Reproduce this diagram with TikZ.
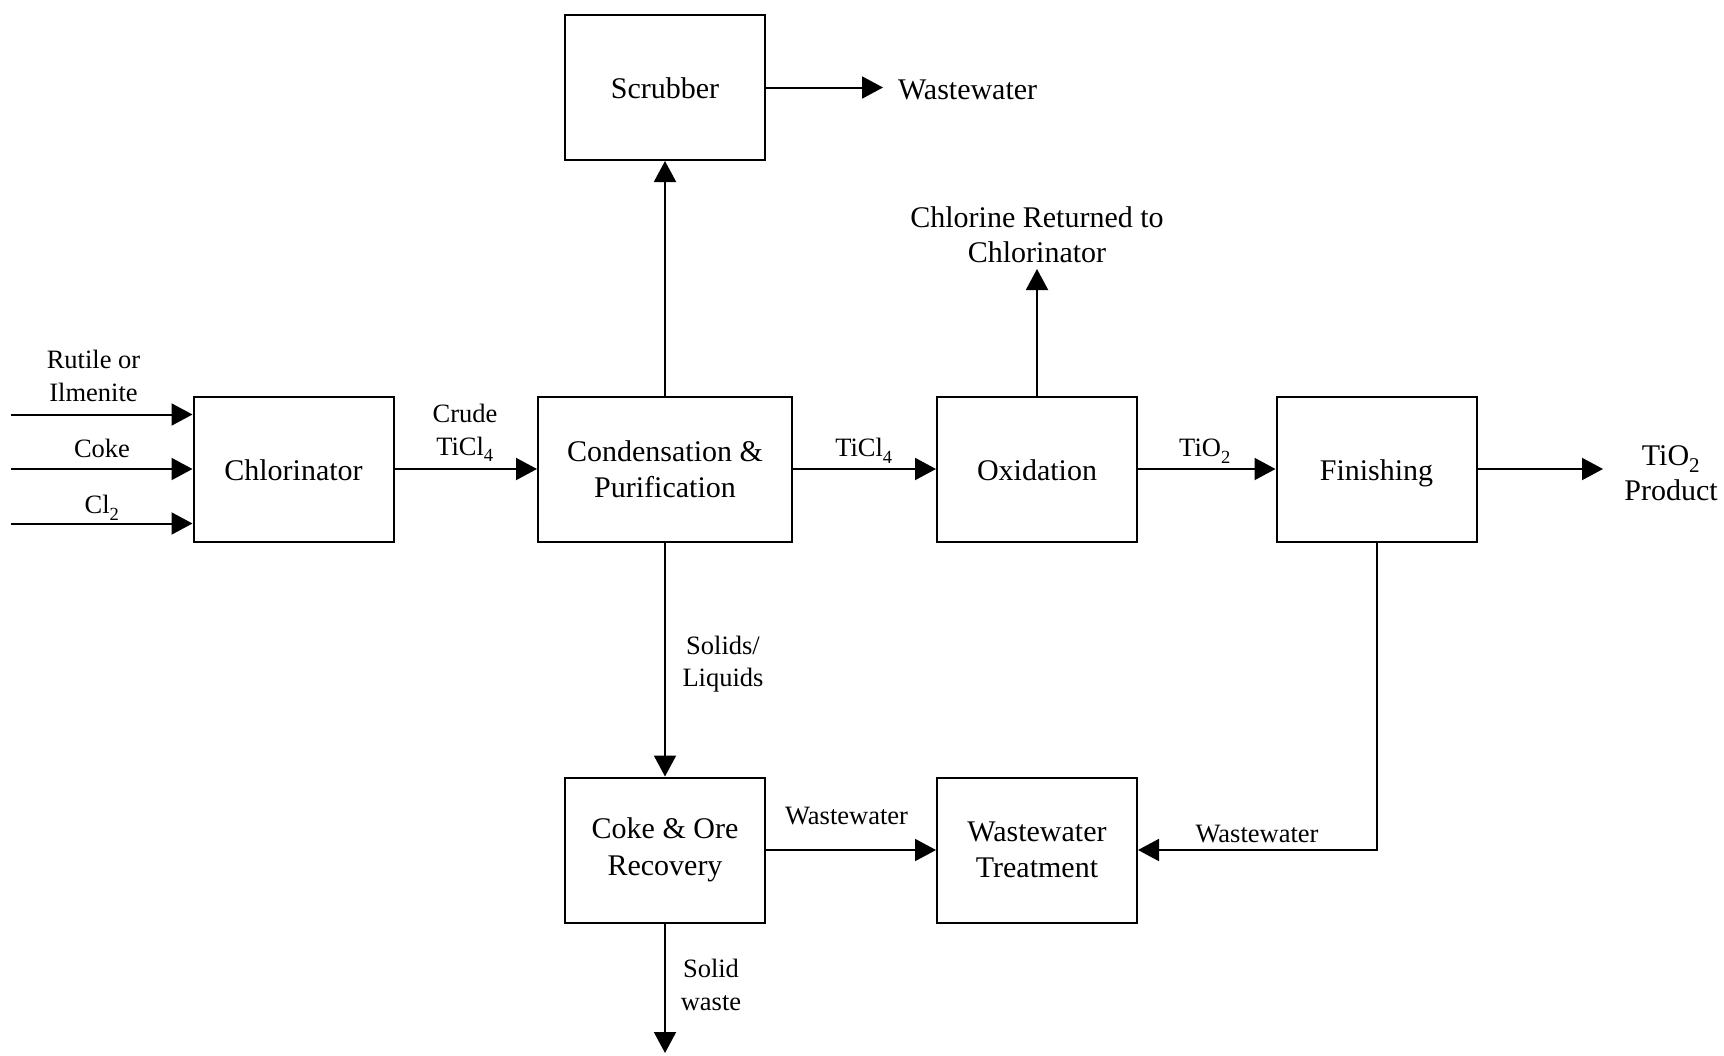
\documentclass[tikz,border=0pt]{standalone}
\usepackage{fontspec}
\setmainfont{Liberation Serif}
\usetikzlibrary{arrows.meta,positioning}
\newcommand{\lowsub}[1]{\textsubscript{\raisebox{-0.15em}{#1}}}

\begin{document}
\begin{tikzpicture}[x=1pt,y=-1pt,line width=2pt,
	unit/.style={draw,minimum width=200pt,minimum height=145pt,inner sep=0pt,font=\fontsize{30}{36.5}\selectfont},
	oneline/.style={text height=27pt,text depth=4.5pt},
	twoline/.style={align=center},
	lbl/.style={inner sep=0pt,align=center,font=\fontsize{26.5}{32.5}\selectfont},
	biglbl/.style={inner sep=0pt,align=center,font=\fontsize{30}{35}\selectfont},
	flow/.style={-{Triangle[length=21pt,width=22pt]}}]
    \useasboundingbox (0,0) rectangle (1724,1055);

    \node[unit,oneline] (chl) at (293.5,469) {Chlorinator};
    \node[unit,twoline,minimum width=254pt] (cond) at (665,469) {Condensation \&\\Purification};
    \node[unit,oneline] (oxi) at (1037,469) {Oxidation};
    \node[unit,oneline] (fin) at (1376.5,469) {Finishing};
    \node[unit,oneline] (scr) at (665,87.5) {Scrubber};
    \node[unit,twoline] (coke) at (665,850) {Coke \& Ore\\Recovery};
    \node[unit,twoline] (wwt) at (1037,850) {Wastewater\\Treatment};

    \coordinate (in1) at (11,414.5);
    \coordinate (in2) at (11,469);
    \coordinate (in3) at (11,523.5);
    \coordinate (prod) at (1603,469);
    \coordinate (scrout) at (883,87.5);
    \coordinate (clret) at (1037,269);
    \coordinate (waste) at (665,1053);

    \draw[flow] (in1) -- (in1 -| chl.west);
    \draw[flow] (in2) -- (chl);
    \draw[flow] (in3) -- (in3 -| chl.west);
    \draw[flow] (chl) -- (cond);
    \draw[flow] (cond) -- (oxi);
    \draw[flow] (oxi) -- (fin);
    \draw[flow] (fin) -- (prod);
    \draw[flow] (cond) -- (scr);
    \draw[flow] (scr) -- (scrout);
    \draw[flow] (oxi) -- (clret);
    \draw[flow] (cond) -- (coke);
    \draw[flow] (coke) -- (wwt);
    \draw[flow] (fin.south) |- (wwt.east);
    \draw[flow] (coke) -- (waste);

    \node[lbl] (rutile) at (93.5,376) {Rutile or\\Ilmenite};
    \node[lbl,anchor=base] (coke-in) at (102,457.5) {Coke};
    \node[lbl,anchor=base] (cl-in) at (102,513.5) {Cl\lowsub{2}};
    \node[lbl] (crude) at (465,433) {Crude\\TiCl\lowsub{4}};
    \node[lbl,anchor=base] (ticl) at (864,456.5) {TiCl\lowsub{4}};
    \node[lbl,anchor=base] (tio) at (1205,456.5) {TiO\lowsub{2}};
    \node[biglbl] (product) at (1671,473) {TiO\lowsub{2}\\Product};
    \node[biglbl,anchor=base west] (scrww) at (897,99) {Wastewater};
    \node[biglbl] (chlorine) at (1037,235) {Chlorine Returned to\\Chlorinator};
    \node[lbl] (solids) at (723,664) {Solids/\\Liquids};
    \node[lbl,anchor=base] (cokeww) at (846.5,824) {Wastewater};
    \node[lbl,anchor=base] (finww) at (1257,842.5) {Wastewater};
    \node[lbl] (solid) at (711,985) {Solid\\waste};

\end{tikzpicture}
\end{document}
